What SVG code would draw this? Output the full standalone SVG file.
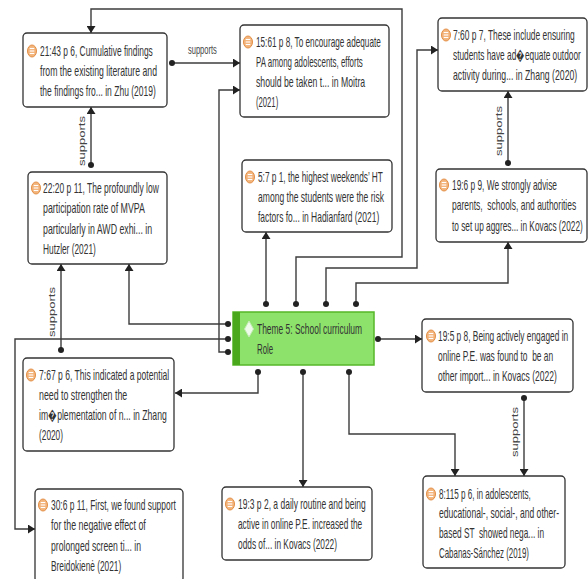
<svg xmlns="http://www.w3.org/2000/svg" width="588" height="579" viewBox="0 0 588 579">
<defs>
<style>
.box{fill:#fff;stroke:#333;stroke-width:1.3}
.t{font-family:"Liberation Sans",Arial,sans-serif;font-size:14px;fill:#333}
.lbl{font-family:"Liberation Sans",Arial,sans-serif;font-size:12px;fill:#444}
.c{fill:none;stroke:#3c3c3c;stroke-width:1.4;marker-end:url(#arr)}
.dot{fill:#222}
.ic{fill:#f3b47c;stroke:#e38f45;stroke-width:1}
.icl{stroke:#fff;stroke-width:1.1}
</style>
<marker id="arr" markerWidth="8" markerHeight="9" refX="7" refY="4.5" orient="auto" markerUnits="userSpaceOnUse">
<path d="M0,0 L7,4.5 L0,9 z" fill="#222"/>
</marker>
<g id="icon">
<ellipse class="ic" cx="0" cy="0" rx="4.5" ry="6"/>
<line class="icl" x1="-2.3" y1="-2.5" x2="2.3" y2="-2.5"/>
<line class="icl" x1="-2.3" y1="0" x2="2.3" y2="0"/>
<line class="icl" x1="-2.3" y1="2.5" x2="2.3" y2="2.5"/>
</g>
</defs>
<rect width="588" height="579" fill="#fff"/>

<g id="connectors">
<path class="c" d="M172,63 L240,63"/>
<circle class="dot" cx="172" cy="63" r="3"/>
<text class="lbl" transform="matrix(0.6,0,0,1,188,54)" textLength="48" lengthAdjust="spacingAndGlyphs">supports</text>

<path class="c" d="M91,165 L91,107"/>
<circle class="dot" cx="91" cy="165" r="3"/>
<text class="lbl" transform="translate(85,141) rotate(-90) scale(1,0.72)" text-anchor="middle" textLength="50" lengthAdjust="spacingAndGlyphs">supports</text>

<path class="c" d="M61,350 L61,264"/>
<circle class="dot" cx="61" cy="350" r="3"/>
<text class="lbl" transform="translate(55,312) rotate(-90) scale(1,0.72)" text-anchor="middle" textLength="50" lengthAdjust="spacingAndGlyphs">supports</text>

<path class="c" d="M508,163 L508,91"/>
<circle class="dot" cx="508" cy="163" r="3"/>
<text class="lbl" transform="translate(502,131) rotate(-90) scale(1,0.72)" text-anchor="middle" textLength="50" lengthAdjust="spacingAndGlyphs">supports</text>

<path class="c" d="M524,398 L524,476"/>
<circle class="dot" cx="524" cy="398" r="3"/>
<text class="lbl" transform="translate(518,432) rotate(-90) scale(1,0.72)" text-anchor="middle" textLength="50" lengthAdjust="spacingAndGlyphs">supports</text>

<path class="c" d="M266,304 L266,232"/>
<circle class="dot" cx="266" cy="304" r="3"/>
<path class="c" d="M296,304 L296,257 L402,257 L402,9 L91,9 L91,33"/>
<circle class="dot" cx="296" cy="304" r="3"/>
<path class="c" d="M326,304 L326,268 L417,268 L417,50 L438,50"/>
<circle class="dot" cx="326" cy="304" r="3"/>
<path class="c" d="M356,304 L356,283 L508,283 L508,242"/>
<circle class="dot" cx="356" cy="304" r="3"/>

<path class="c" d="M228,324 L129,324 L129,264"/>
<circle class="dot" cx="228" cy="324" r="3"/>
<path class="c" d="M228,339 L15,339 L15,529 L35,529"/>
<circle class="dot" cx="228" cy="339" r="3"/>
<path class="c" d="M228,352 L219,352 L219,90 L240,90"/>
<circle class="dot" cx="228" cy="352" r="3"/>

<path class="c" d="M378,339 L422,339"/>
<circle class="dot" cx="378" cy="339" r="3"/>

<path class="c" d="M258,372 L258,393 L175,393"/>
<circle class="dot" cx="258" cy="372" r="3"/>
<path class="c" d="M303,372 L303,487"/>
<circle class="dot" cx="303" cy="372" r="3"/>
<path class="c" d="M349,372 L349,434 L455,434 L455,476"/>
<circle class="dot" cx="349" cy="372" r="3"/>
</g>

<g id="n-zhu2019">
<rect class="box" x="23" y="33" width="144" height="74" rx="4"/>
<use href="#icon" x="32" y="51"/>
<text class="t" transform="matrix(0.6,0,0,1,40,56)" textLength="188" lengthAdjust="spacingAndGlyphs">21:43 p 6, Cumulative findings</text>
<text class="t" transform="matrix(0.6,0,0,1,40,76)" textLength="195" lengthAdjust="spacingAndGlyphs">from the existing literature and</text>
<text class="t" transform="matrix(0.6,0,0,1,40,96)" textLength="193" lengthAdjust="spacingAndGlyphs">the findings fro... in Zhu (2019)</text>
</g>

<g id="n-moitra2021">
<rect class="box" x="240" y="25" width="149" height="92" rx="4"/>
<use href="#icon" x="248" y="42"/>
<text class="t" transform="matrix(0.6,0,0,1,256,47)" textLength="208" lengthAdjust="spacingAndGlyphs">15:61 p 8, To encourage adequate</text>
<text class="t" transform="matrix(0.6,0,0,1,256,67)" textLength="178" lengthAdjust="spacingAndGlyphs">PA among adolescents, efforts</text>
<text class="t" transform="matrix(0.6,0,0,1,256,87)" textLength="182" lengthAdjust="spacingAndGlyphs">should be taken t... in Moitra</text>
<text class="t" transform="matrix(0.6,0,0,1,256,107)" textLength="37" lengthAdjust="spacingAndGlyphs">(2021)</text>
</g>

<g id="n-zhang2020a">
<rect class="box" x="438" y="18" width="149" height="73" rx="4"/>
<use href="#icon" x="446" y="35"/>
<text class="t" transform="matrix(0.6,0,0,1,453,40)" textLength="203" lengthAdjust="spacingAndGlyphs">7:60 p 7, These include ensuring</text>
<text class="t" transform="matrix(0.6,0,0,1,453,60)" textLength="213" lengthAdjust="spacingAndGlyphs">students have ad&#xFFFD;equate outdoor</text>
<text class="t" transform="matrix(0.6,0,0,1,453,80)" textLength="207" lengthAdjust="spacingAndGlyphs">activity during... in Zhang (2020)</text>
</g>

<g id="n-hadianfard2021">
<rect class="box" x="242" y="160" width="150" height="72" rx="4"/>
<use href="#icon" x="250" y="177"/>
<text class="t" transform="matrix(0.6,0,0,1,258,182)" textLength="208" lengthAdjust="spacingAndGlyphs">5:7 p 1, the highest weekends’ HT</text>
<text class="t" transform="matrix(0.6,0,0,1,258,202)" textLength="210" lengthAdjust="spacingAndGlyphs">among the students were the risk</text>
<text class="t" transform="matrix(0.6,0,0,1,258,222)" textLength="202" lengthAdjust="spacingAndGlyphs">factors fo... in Hadianfard (2021)</text>
</g>

<g id="n-hutzler2021">
<rect class="box" x="28" y="172" width="139" height="92" rx="4"/>
<use href="#icon" x="36" y="188"/>
<text class="t" transform="matrix(0.6,0,0,1,43,193)" textLength="193" lengthAdjust="spacingAndGlyphs">22:20 p 11, The profoundly low</text>
<text class="t" transform="matrix(0.6,0,0,1,43,213)" textLength="170" lengthAdjust="spacingAndGlyphs">participation rate of MVPA</text>
<text class="t" transform="matrix(0.6,0,0,1,43,234)" textLength="182" lengthAdjust="spacingAndGlyphs">particularly in AWD exhi... in</text>
<text class="t" transform="matrix(0.6,0,0,1,43,254)" textLength="88" lengthAdjust="spacingAndGlyphs">Hutzler (2021)</text>
</g>

<g id="n-kovacs2022a">
<rect class="box" x="436" y="169" width="151" height="73" rx="4"/>
<use href="#icon" x="444" y="185"/>
<text class="t" transform="matrix(0.6,0,0,1,452,190)" textLength="175" lengthAdjust="spacingAndGlyphs">19:6 p 9, We strongly advise</text>
<text class="t" transform="matrix(0.6,0,0,1,452,210)" textLength="207" lengthAdjust="spacingAndGlyphs" xml:space="preserve">parents,  schools, and authorities</text>
<text class="t" transform="matrix(0.6,0,0,1,452,231)" textLength="218" lengthAdjust="spacingAndGlyphs">to set up aggres... in Kovacs (2022)</text>
</g>

<g id="n-theme5">
<rect x="233" y="312" width="141" height="53" fill="#8de26b" stroke="#56b728" stroke-width="1.5"/>
<rect x="233" y="312" width="7" height="53" fill="#4aa81c"/>
<path d="M249,321 L253.5,329 L249,337 L244.5,329 z" fill="#eefaea" stroke="#c4ebb4" stroke-width="1"/>
<text class="t" transform="matrix(0.6,0,0,1,257,334)" textLength="175" lengthAdjust="spacingAndGlyphs">Theme 5: School curriculum</text>
<text class="t" transform="matrix(0.6,0,0,1,257,354)" textLength="27" lengthAdjust="spacingAndGlyphs">Role</text>
</g>

<g id="n-kovacs2022b">
<rect class="box" x="422" y="319" width="151" height="73" rx="4"/>
<use href="#icon" x="431" y="336"/>
<text class="t" transform="matrix(0.6,0,0,1,438,341)" textLength="217" lengthAdjust="spacingAndGlyphs">19:5 p 8, Being actively engaged in</text>
<text class="t" transform="matrix(0.6,0,0,1,438,361)" textLength="192" lengthAdjust="spacingAndGlyphs" xml:space="preserve">online P.E. was found to  be an</text>
<text class="t" transform="matrix(0.6,0,0,1,438,381)" textLength="198" lengthAdjust="spacingAndGlyphs">other import... in Kovacs (2022)</text>
</g>

<g id="n-zhang2020b">
<rect class="box" x="23" y="358" width="151" height="93" rx="4"/>
<use href="#icon" x="31" y="375"/>
<text class="t" transform="matrix(0.6,0,0,1,39,380)" textLength="217" lengthAdjust="spacingAndGlyphs">7:67 p 6, This indicated a potential</text>
<text class="t" transform="matrix(0.6,0,0,1,39,400)" textLength="147" lengthAdjust="spacingAndGlyphs">need to strengthen the</text>
<text class="t" transform="matrix(0.6,0,0,1,39,420)" textLength="213" lengthAdjust="spacingAndGlyphs">im&#xFFFD;plementation of n... in Zhang</text>
<text class="t" transform="matrix(0.6,0,0,1,39,440)" textLength="40" lengthAdjust="spacingAndGlyphs">(2020)</text>
</g>

<g id="n-breidokiene2021">
<rect class="box" x="35" y="489" width="148" height="93" rx="4"/>
<use href="#icon" x="43" y="505"/>
<text class="t" transform="matrix(0.6,0,0,1,51,510)" textLength="208" lengthAdjust="spacingAndGlyphs">30:6 p 11, First, we found support</text>
<text class="t" transform="matrix(0.6,0,0,1,51,530)" textLength="158" lengthAdjust="spacingAndGlyphs">for the negative effect of</text>
<text class="t" transform="matrix(0.6,0,0,1,51,551)" textLength="150" lengthAdjust="spacingAndGlyphs">prolonged screen ti... in</text>
<text class="t" transform="matrix(0.6,0,0,1,51,571)" textLength="117" lengthAdjust="spacingAndGlyphs">Breidokienė (2021)</text>
</g>

<g id="n-kovacs2022c">
<rect class="box" x="222" y="487" width="150" height="73" rx="4"/>
<use href="#icon" x="230" y="504"/>
<text class="t" transform="matrix(0.6,0,0,1,238,509)" textLength="213" lengthAdjust="spacingAndGlyphs">19:3 p 2, a daily routine and being</text>
<text class="t" transform="matrix(0.6,0,0,1,238,529)" textLength="207" lengthAdjust="spacingAndGlyphs">active in online P.E. increased the</text>
<text class="t" transform="matrix(0.6,0,0,1,238,549)" textLength="165" lengthAdjust="spacingAndGlyphs">odds of... in Kovacs (2022)</text>
</g>

<g id="n-cabanas2019">
<rect class="box" x="423" y="476" width="142" height="92" rx="4"/>
<use href="#icon" x="431" y="494"/>
<text class="t" transform="matrix(0.6,0,0,1,439,499)" textLength="153" lengthAdjust="spacingAndGlyphs">8:115 p 6, in adolescents,</text>
<text class="t" transform="matrix(0.6,0,0,1,439,518)" textLength="200" lengthAdjust="spacingAndGlyphs">educational-, social-, and other-</text>
<text class="t" transform="matrix(0.6,0,0,1,439,538)" textLength="175" lengthAdjust="spacingAndGlyphs" xml:space="preserve">based ST  showed nega... in</text>
<text class="t" transform="matrix(0.6,0,0,1,439,558)" textLength="150" lengthAdjust="spacingAndGlyphs">Cabanas-Sánchez (2019)</text>
</g>
</svg>
